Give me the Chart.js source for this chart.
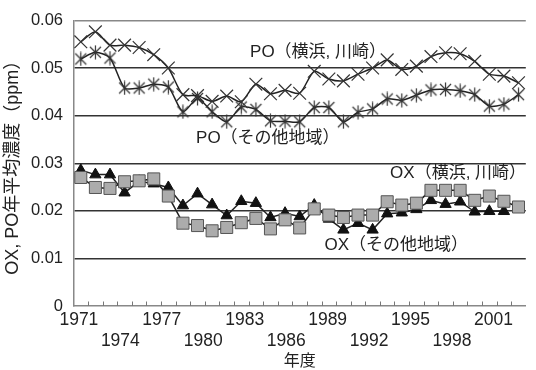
<!DOCTYPE html>
<html><head><meta charset="utf-8">
<script src="https://cdn.jsdelivr.net/npm/chart.js@4/dist/chart.umd.min.js"></script>
<style>html,body{margin:0;padding:0;background:#fff}#wrap{width:536px;height:370px}</style>
</head><body><div id="wrap"><canvas id="c" width="536" height="370"></canvas></div>
<script>
const years = [1971,1972,1973,1974,1975,1976,1977,1978,1979,1980,1981,1982,1983,1984,1985,1986,1987,1988,1989,1990,1991,1992,1993,1994,1995,1996,1997,1998,1999,2000,2001];
const labelYears = [1971,1974,1977,1980,1983,1986,1989,1992,1995,1998,2001];
const yTicks = [0,0.01,0.02,0.03,0.04,0.05,0.06];
const poYokohama = [0.0555,0.0576,0.0548,0.0548,0.0543,0.0528,0.0500,0.0444,0.0442,0.0430,0.0441,0.0429,0.0466,0.0446,0.0453,0.0447,0.0493,0.0477,0.0473,0.0487,0.0500,0.0517,0.0497,0.0504,0.0524,0.0532,0.0530,0.0514,0.0487,0.0483,0.0469];
const poOther = [0.0519,0.0533,0.0521,0.0458,0.0458,0.0466,0.0460,0.0408,0.0436,0.0408,0.0387,0.0418,0.0413,0.0389,0.0388,0.0387,0.0417,0.0417,0.0387,0.0407,0.0414,0.0435,0.0432,0.0443,0.0454,0.0455,0.0452,0.0444,0.0420,0.0424,0.0444];
const oxYokohama = [0.0285,0.0276,0.0276,0.0238,0.0262,0.0257,0.0249,0.0211,0.0236,0.0213,0.0190,0.0220,0.0216,0.0186,0.0195,0.0188,0.0212,0.0183,0.0160,0.0174,0.0160,0.0194,0.0196,0.0203,0.0222,0.0214,0.0219,0.0198,0.0199,0.0199,null];
const oxOther = [0.0270,0.0249,0.0247,0.0261,0.0263,0.0267,0.0231,0.0174,0.0169,0.0158,0.0165,0.0175,0.0184,0.0162,0.0181,0.0164,0.0204,0.0191,0.0186,0.0191,0.0191,0.0219,0.0212,0.0216,0.0243,0.0243,0.0243,0.0222,0.0231,0.0220,0.0208];
const seriesNames = ['PO（横浜, 川崎）','PO（その他地域）','OX（横浜, 川崎）','OX（その他地域）'];
const yTitle = 'OX, PO年平均濃度（ppm）';
const xTitle = '年度';

const FONT = "'Liberation Sans', Arial, 'Noto Sans CJK JP', sans-serif";
Chart.defaults.font.family = FONT;
Chart.defaults.color = '#222';

function pts(arr){ return years.map((y,i)=>({x:y, y:arr[i]})); }

// asterisk marker
const star = document.createElement('canvas');
star.width = 15; star.height = 15;
(function(){
  const g = star.getContext('2d');
  g.strokeStyle = '#333'; g.lineWidth = 1.2;
  g.beginPath();
  g.moveTo(7.5,0.5); g.lineTo(7.5,14.5);
  g.moveTo(2,2); g.lineTo(13,13);
  g.moveTo(13,2); g.lineTo(2,13);
  g.stroke();
})();

const notes = [
  {text: seriesNames[0], x: 1982.6, y: 0.0532},
  {text: seriesNames[1], x: 1978.9, y: 0.0353},
  {text: seriesNames[2], x: 1992.2, y: 0.0278},
  {text: seriesNames[3], x: 1987.7, y: 0.0128}
];

const extras = {
  id: 'extras',
  beforeDatasetsDraw(chart){
    const xs = chart.scales.xd, ys = chart.scales.y, ctx = chart.ctx;
    ctx.save();
    ctx.strokeStyle = '#777'; ctx.lineWidth = 1;
    ctx.beginPath();
    for (let k = 0; k < years.length - 1; k++){
      const px = Math.round(xs.getPixelForValue(years[k] + 0.5)) + 0.5;
      ctx.moveTo(px, ys.bottom); ctx.lineTo(px, ys.bottom - 4.5);
    }
    ctx.stroke();
    ctx.restore();
  },
  afterDatasetsDraw(chart){
    const xs = chart.scales.xd, ys = chart.scales.y, ctx = chart.ctx;
    ctx.save();
    ctx.fillStyle = '#222';
    ctx.font = "17px 'Liberation Sans', Arial, 'Noto Sans CJK JP', sans-serif";
    ctx.textAlign = 'left'; ctx.textBaseline = 'middle';
    notes.forEach(n => ctx.fillText(n.text, xs.getPixelForValue(n.x), ys.getPixelForValue(n.y)));
    ctx.restore();
  }
};

const lineCommon = {borderColor:'#222', borderWidth:1.5, xAxisID:'xd', yAxisID:'y', clip:false, spanGaps:false};

new Chart(document.getElementById('c'), {
  type: 'line',
  data: {
    datasets: [
      Object.assign({label: seriesNames[3], data: pts(oxOther), order: 0, tension: 0,
        pointStyle: 'rect', pointRadius: 8.5, pointBackgroundColor: '#acacac', pointBorderColor: '#555', pointBorderWidth: 1}, lineCommon),
      Object.assign({label: seriesNames[2], data: pts(oxYokohama), order: 1, tension: 0,
        pointStyle: 'triangle', pointRadius: 6.5, pointBackgroundColor: '#111', pointBorderColor: '#111', pointBorderWidth: 1}, lineCommon),
      Object.assign({label: seriesNames[0], data: pts(poYokohama), order: 2, tension: 0.25,
        pointStyle: 'crossRot', pointRadius: 9, pointBorderColor: '#333', pointBorderWidth: 1.2}, lineCommon),
      Object.assign({label: seriesNames[1], data: pts(poOther), order: 3, tension: 0.25,
        pointStyle: star, pointRadius: 7}, lineCommon)
    ]
  },
  options: {
    responsive: false,
    animation: false,
    devicePixelRatio: 1,
    layout: {padding: {top: 15, right: 0, left: 0, bottom: 0}},
    plugins: {legend: {display: false}, tooltip: {enabled: false}},
    scales: {
      xd: {type: 'linear', display: false, min: 1970.5, max: 2001.5},
      x: {
        type: 'linear', position: 'bottom', min: 1970.61, max: 2003.34,
        afterBuildTicks: s => { s.ticks = labelYears.map(v => ({value: v})); },
        afterFit: s => { s.height = 64; },
        ticks: {autoSkip: false, maxRotation: 0, padding: 4, color: '#222',
          font: {size: 17.5},
          callback: (v, i) => (i % 2 ? ['', String(v)] : String(v))},
        grid: {display: true, drawOnChartArea: false, drawTicks: false},
        border: {display: true, color: '#888', width: 1.5},
        title: {display: true, text: xTitle, color: '#222', padding: {top: 0, bottom: 0},
          font: {size: 16, family: FONT, lineHeight: 1}}
      },
      y: {
        min: 0, max: 0.06,
        afterBuildTicks: s => { s.ticks = yTicks.map(v => ({value: v})); },
        afterFit: s => { s.width = 73.5; },
        ticks: {padding: 10.5, color: '#222', font: {size: 16.5},
          callback: v => (v === 0 ? '0' : Number(v).toFixed(2))},
        grid: {drawTicks: false, lineWidth: 1.4,
          color: c => (c.tick && c.tick.value === 0 ? 'rgba(0,0,0,0)' : (c.tick && c.tick.value > 0.0599 ? '#888' : '#333'))},
        border: {display: true, color: '#888', width: 1.5},
        title: {display: true, text: yTitle, color: '#222', padding: {top: 2, bottom: 0},
          font: {size: 18, family: FONT}}
      }
    }
  },
  plugins: [extras]
});
</script>
</body></html>
